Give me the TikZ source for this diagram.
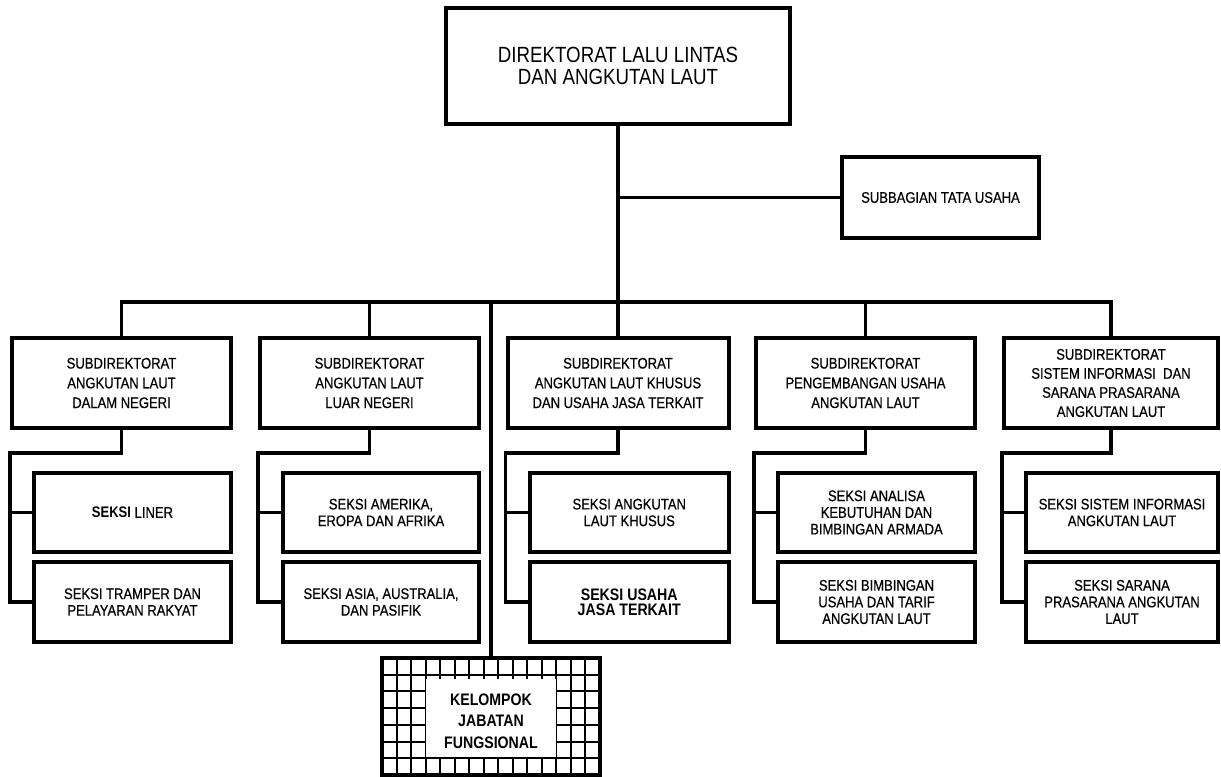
\documentclass[tikz,border=0pt]{standalone}
\usepackage{fontspec}
\setmainfont[FakeStretch=0.85, UprightFeatures={FakeBold=0.5}]{Liberation Sans}
\newfontfamily\headfont[FakeStretch=0.85]{Liberation Sans}
\begin{document}
\begin{tikzpicture}[x=0.75pt,y=-0.75pt,
  box/.style={draw, line width=3pt, fill=white, align=center, inner sep=0pt},
  sz/.style 2 args={minimum width=#1*0.75pt, minimum height=#2*0.75pt},
  headtext/.style={font=\headfont\fontsize{16.5}{16}\selectfont},
  subtext/.style={font=\fontsize{11.5}{14.8}\selectfont},
  seksitext/.style={font=\fontsize{11.5}{12.5}\selectfont},
  link/.style={line width=2.4pt},
  gridline/.style={line width=1.5pt}
]
\useasboundingbox (0,0) rectangle (1221,777);

% helper rows for the connectors
\coordinate (busy) at (0,302);
\coordinate (jy) at (0,453);

% directorate and administration
\node[box, sz={344}{116}, headtext] (top) at (618,66)
  {\raisebox{-4pt}{\parbox{200pt}{\centering DIREKTORAT LALU LINTAS\\DAN ANGKUTAN LAUT}}};
\node[box, sz={197}{81}, subtext] (sub) at (940.5,197.5) {SUBBAGIAN TATA USAHA};

% sub-directorates
\node[box, sz={219}{90}, subtext] (d1) at (121.5,383) {SUBDIREKTORAT\\ANGKUTAN LAUT\\DALAM NEGERI};
\node[box, sz={219}{90}, subtext] (d2) at (369.5,383) {SUBDIREKTORAT\\ANGKUTAN LAUT\\LUAR NEGERI};
\node[box, sz={221}{90}, subtext] (d3) at (618,383) {SUBDIREKTORAT\\ANGKUTAN LAUT KHUSUS\\DAN USAHA JASA TERKAIT};
\node[box, sz={219}{90}, subtext] (d4) at (865.5,383) {SUBDIREKTORAT\\PENGEMBANGAN USAHA\\ANGKUTAN LAUT};
\node[box, sz={214}{90}, font=\fontsize{11.5}{14.3}\selectfont] (d5) at (1111,383) {SUBDIREKTORAT\\SISTEM INFORMASI\ \ DAN\\SARANA PRASARANA\\ANGKUTAN LAUT};

% sections
\node[box, sz={197}{79}, seksitext] (s1a) at (132.5,512.5) {{\bfseries SEKSI} LINER};
\node[box, sz={197}{80}, seksitext] (s1b) at (132.5,602) {SEKSI TRAMPER DAN\\PELAYARAN RAKYAT};
\node[box, sz={196}{79}, seksitext] (s2a) at (381,512.5) {SEKSI AMERIKA,\\EROPA DAN AFRIKA};
\node[box, sz={196}{80}, seksitext] (s2b) at (381,602) {\raisebox{5pt}{\parbox{130pt}{\centering SEKSI ASIA, AUSTRALIA,\\DAN PASIFIK}}};
\node[box, sz={198.5}{79}, seksitext] (s3a) at (629.25,512.5) {SEKSI ANGKUTAN\\LAUT KHUSUS};
\node[box, sz={198.5}{80}, font=\bfseries\fontsize{12.5}{11.5}\selectfont] (s3b) at (629.25,602) {SEKSI USAHA\\JASA TERKAIT};
\node[box, sz={197}{79}, seksitext] (s4a) at (876.5,512.5) {SEKSI ANALISA\\KEBUTUHAN DAN\\BIMBINGAN ARMADA};
\node[box, sz={197}{80}, seksitext] (s4b) at (876.5,602) {SEKSI BIMBINGAN\\USAHA DAN TARIF\\ANGKUTAN LAUT};
\node[box, sz={192}{79}, seksitext] (s5a) at (1122,512.5) {\raisebox{-4pt}{\parbox{130pt}{\centering SEKSI SISTEM INFORMASI\\ANGKUTAN LAUT}}};
\node[box, sz={192}{80}, seksitext] (s5b) at (1122,602) {SEKSI SARANA\\PRASARANA ANGKUTAN\\LAUT};

% functional group: hatched frame with a plain centre
\node[draw, line width=3pt, sz={218}{117}] (kel) at (491,716.5) {};
\foreach \i in {1,...,14}
  \draw[gridline] ({382+\i*218/15},658) -- ({382+\i*218/15},775);
\foreach \j in {1,...,6}
  \draw[gridline] (382,{658+\j*117/7}) -- (600,{658+\j*117/7});
\fill[white] ({382+3*218/15+0.8},{658+117/7+4}) rectangle ({600-3*218/15-0.8},{775-117/7-0.8});
\node[font=\bfseries\fontsize{12.5}{16.3}\selectfont, align=center] (keltext) at (491,721)
  {KELOMPOK\\JABATAN\\FUNGSIONAL};

% connectors
\draw[link] (top.south) -- (d3.north);
\draw[link] (sub.west) -- (sub.west -| top.south);
\draw[link] (d1.north) |- (busy -| d5.north) -- (d5.north);
\draw[link] (d2.north) -- (d2.north |- busy);
\draw[link] (d4.north) -- (d4.north |- busy);
\draw[link] (kel.north) -- (kel.north |- busy);

\foreach \c/\a/\b in {d1/s1a/s1b, d2/s2a/s2b, d3/s3a/s3b, d4/s4a/s4b, d5/s5a/s5b}{
  \draw[link] (\c.south) |- (jy -| \c.west) |- (\b.west);
  \draw[link] (\a.west -| \c.west) -- (\a.west);
}
\end{tikzpicture}
\end{document}
